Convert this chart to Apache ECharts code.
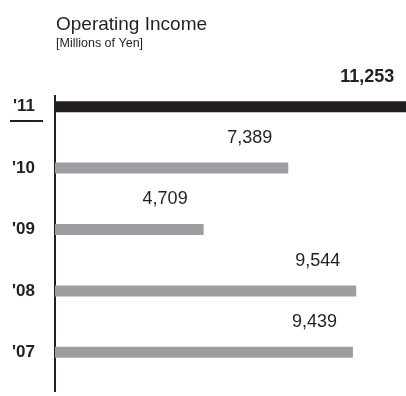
<!DOCTYPE html>
<html>
<head>
<meta charset="utf-8">
<script src="https://cdn.jsdelivr.net/npm/echarts@6/dist/echarts.min.js"></script>
<style>html,body{margin:0;padding:0;background:#fff}#c{width:406px;height:396px}</style>
</head>
<body>
<div id="c"></div>
<script>
const categories = ["'11", "'10", "'09", "'08", "'07"];
const values = [11253, 7389, 4709, 9544, 9439];
const highlightIndex = 0;
const titleText = 'Operating Income';
const subtitleText = '[Millions of Yen]';

const ink = '#231f20';
const grey = '#9d9ea1';
const chart = echarts.init(document.getElementById('c'), null, {renderer: 'canvas'});
chart.setOption({
  animation: false,
  backgroundColor: '#fff',
  title: {
    text: titleText, subtext: subtitleText, left: 51, top: 10, itemGap: 3,
    textStyle: {fontFamily: 'Liberation Sans', fontSize: 19, fontWeight: 'normal', color: ink},
    subtextStyle: {fontFamily: 'Liberation Sans', fontSize: 12.5, color: ink}
  },
  grid: {left: 55, width: 363, top: 76, bottom: 13, outerBoundsMode: 'none', containLabel: false},
  xAxis: {type: 'value', min: 0, max: 11500, show: false},
  yAxis: {
    type: 'category', data: categories, inverse: true,
    axisLine: {show: false}, axisTick: {show: false},
    axisLabel: {margin: 20, fontFamily: 'Liberation Sans', fontSize: 17, fontWeight: 'bold', color: ink}
  },
  series: [{
    type: 'bar', barWidth: 11, clip: false,
    data: values.map((v, i) => ({
      value: v,
      itemStyle: {color: i === highlightIndex ? ink : grey},
      label: i === highlightIndex ? {fontWeight: 'bold'} : {}
    })),
    label: {
      show: true, position: ['100%', '50%'], align: 'right', verticalAlign: 'middle',
      offset: [-16, -30], fontFamily: 'Liberation Sans', fontSize: 18, color: ink,
      formatter: p => p.value.toLocaleString('en-US')
    }
  }],
  graphic: [
    {type: 'line', shape: {x1: 55, y1: 95, x2: 55, y2: 392}, style: {stroke: ink, lineWidth: 2}},
    {type: 'line', shape: {x1: 10, y1: 121, x2: 43, y2: 121}, style: {stroke: ink, lineWidth: 2}}
  ]
});
</script>
</body>
</html>
